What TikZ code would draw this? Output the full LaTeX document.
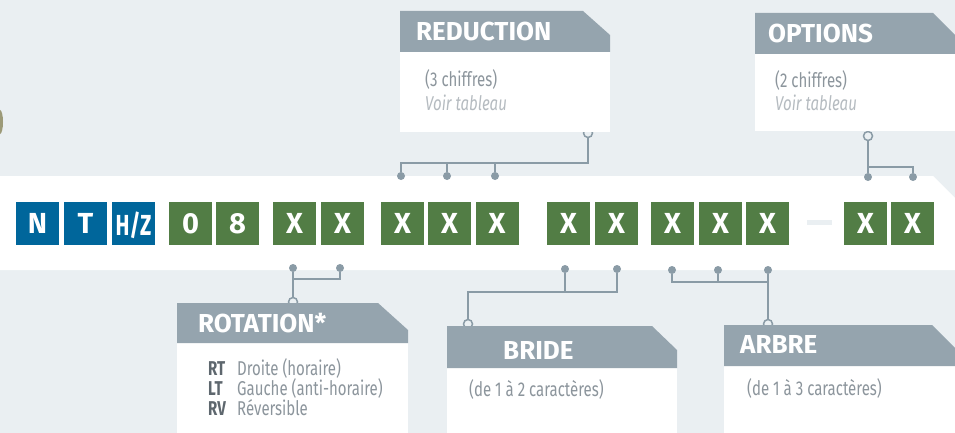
\documentclass[tikz,border=0pt]{standalone}
\usepackage{fontspec}
\usepackage{graphicx}
\setmainfont{Fira Sans}
\newfontfamily\etroit{Fira Sans}[FakeStretch=0.75]
\usetikzlibrary{positioning}

\definecolor{fond}{HTML}{EAEFF2}
\definecolor{entete}{HTML}{95A4AE}
\definecolor{lien}{HTML}{8A9BA6}
\definecolor{bleu}{HTML}{00669B}
\definecolor{vert}{HTML}{527D45}
\definecolor{gris}{HTML}{8C959C}
\definecolor{grisclair}{HTML}{B5BBC0}
\definecolor{cle}{HTML}{5E676E}
\definecolor{vieux}{HTML}{9C9A78}

\begin{document}
\begin{tikzpicture}[x=1pt,y=-1pt,
    code/.style={minimum size=43pt, inner sep=0pt, text=white, text depth=0pt,
        font=\bfseries\fontsize{29}{29}\selectfont},
    point/.style={circle, fill=lien, minimum size=8pt, inner sep=0pt},
    anneau/.style={circle, draw=lien, fill=fond, line width=1.5pt, minimum size=9pt, inner sep=0pt},
    trait/.style={draw=lien, line width=2pt},
    titre/.style={anchor=base west, inner sep=0pt, text=white,
        font=\bfseries\fontsize{26}{26}\selectfont},
    corps/.style={anchor=base west, inner sep=0pt, text=gris,
        font=\etroit\fontsize{20}{20}\selectfont},
    note/.style={corps, text=grisclair, font=\etroit\itshape\fontsize{20}{20}\selectfont},
    cletxt/.style={anchor=base west, inner sep=0pt, text=cle,
        font=\etroit\bfseries\fontsize{20}{20}\selectfont}]

    % Fond et bande
    \useasboundingbox (0,0) rectangle (955,433);
    \fill[fond] (0,0) rectangle (955,433);
    \fill[vieux] (0,122) ellipse [x radius=3pt, y radius=12pt];
    \fill[white] (0,176) -- (933,176) -- (955,198) -- (955,270) -- (0,270) -- cycle;

    % Points et anneaux
    \node[point] (red1) at (401,176) {};
    \node[point] (red2) at (447,176) {};
    \node[point] (red3) at (495,176) {};
    \node[anneau] (reda) at (588,133) {};
    \node[point] (opt1) at (868,177) {};
    \node[point] (opt2) at (913,177) {};
    \node[anneau] (opta) at (868,136) {};
    \node[point] (rot1) at (293,268) {};
    \node[point] (rot2) at (340,268) {};
    \node[anneau] (rota) at (293,302) {};
    \node[point] (brd1) at (565,269) {};
    \node[point] (brd2) at (617,269) {};
    \node[anneau] (brda) at (468,324) {};
    \node[point] (arb1) at (672,270) {};
    \node[point] (arb2) at (718,270) {};
    \node[point] (arb3) at (768,270) {};
    \node[anneau] (arba) at (768,324) {};

    % Liens
    \coordinate (redj) at (588,163);
    \draw[trait] (red1) |- (redj) -- (reda);
    \draw[trait] (red2) -- (red2 |- redj);
    \draw[trait] (red3) -- (red3 |- redj);

    \coordinate (optj) at (913,167);
    \draw[trait] (opta) -- (opt1);
    \draw[trait] (opt1 |- optj) -| (opt2);

    \coordinate (rotj) at (340,279);
    \draw[trait] (rot1) -- (rota);
    \draw[trait] (rot1 |- rotj) -| (rot2);

    \coordinate (brdj) at (617,292);
    \draw[trait] (brda) |- (brdj) -- (brd2);
    \draw[trait] (brd1) -- (brd1 |- brdj);

    \coordinate (arbj) at (768,282);
    \draw[trait] (arb1) |- (arbj);
    \draw[trait] (arb2) -- (arb2 |- arbj);
    \draw[trait] (arb3) -- (arba);

    % Cartouches
    \fill[white] (400,52) rectangle (610,132);
    \fill[entete] (400,11) -- (583,11) -- (610,35) -- (610,52) -- (400,52) -- cycle;
    \fill[white] (755,54) rectangle (960,131);
    \fill[entete] (755,13) -- (933,13) -- (974,54) -- (755,54) -- cycle;
    \fill[white] (177,343) rectangle (408,440);
    \fill[entete] (177,303) -- (378,303) -- (408,330) -- (408,343) -- (177,343) -- cycle;
    \fill[white] (447,368) rectangle (677,440);
    \fill[entete] (447,326) -- (652,326) -- (677,350) -- (677,368) -- (447,368) -- cycle;
    \fill[white] (724,366) rectangle (960,440);
    \fill[entete] (724,325) -- (932,325) -- (973,366) -- (724,366) -- cycle;

    % Textes des cartouches
    \node[titre] (reduction) at (416,41) {REDUCTION};
    \node[corps] (redc) at (425,87) {(3 chiffres)};
    \node[note] (redv) at (425,111) {Voir tableau};
    \node[titre] (options) at (768,43) {OPTIONS};
    \node[corps] (optc) at (775,88) {(2 chiffres)};
    \node[note] (optv) at (775,111) {Voir tableau};
    \node[titre] (rotation) at (198,332) {ROTATION*};
    \node[cletxt] (rt) at (208,375) {RT};
    \node[cletxt] (lt) at (208,395) {LT};
    \node[cletxt] (rv) at (208,415) {RV};
    \node[corps] (rtd) at (237,375) {Droite (horaire)};
    \node[corps] (ltd) at (237,395) {Gauche (anti-horaire)};
    \node[corps] (rvd) at (237,415) {Réversible};
    \node[titre] (bride) at (503,359) {BRIDE};
    \node[corps] (bridec) at (469,396) {(de 1 à 2 caractères)};
    \node[titre] (arbre) at (740,353) {ARBRE};
    \node[corps] (arbrec) at (747,395) {(de 1 à 3 caractères)};

    % Code
    \node[code, fill=bleu] (c1) at (37.5,223.5) {N};
    \node[code, fill=bleu] (c2) at (85.5,223.5) {T};
    \node[code, fill=bleu] (c3) at (133.5,223.5) {\scalebox{0.72}[1]{H/Z}};
    \node[code, fill=vert] (c4) at (190.5,223.5) {0};
    \node[code, fill=vert] (c5) at (237.5,223.5) {8};
    \node[code, fill=vert] (c6) at (294.5,223.5) {X};
    \node[code, fill=vert] (c7) at (342.5,223.5) {X};
    \node[code, fill=vert] (c8) at (402.5,223.5) {X};
    \node[code, fill=vert] (c9) at (449.5,223.5) {X};
    \node[code, fill=vert] (c10) at (497,223.5) {X};
    \node[code, fill=vert] (c11) at (568.5,223.5) {X};
    \node[code, fill=vert] (c12) at (616.5,223.5) {X};
    \node[code, fill=vert] (c13) at (672.5,223.5) {X};
    \node[code, fill=vert] (c14) at (720.5,223.5) {X};
    \node[code, fill=vert] (c15) at (767.5,223.5) {X};
    \node[fill=fond, minimum width=25pt, minimum height=5pt, inner sep=0pt] (tiret) at (819.5,222.5) {};
    \node[code, fill=vert] (c16) at (865.5,223.5) {X};
    \node[code, fill=vert] (c17) at (912.5,223.5) {X};
\end{tikzpicture}
\end{document}
